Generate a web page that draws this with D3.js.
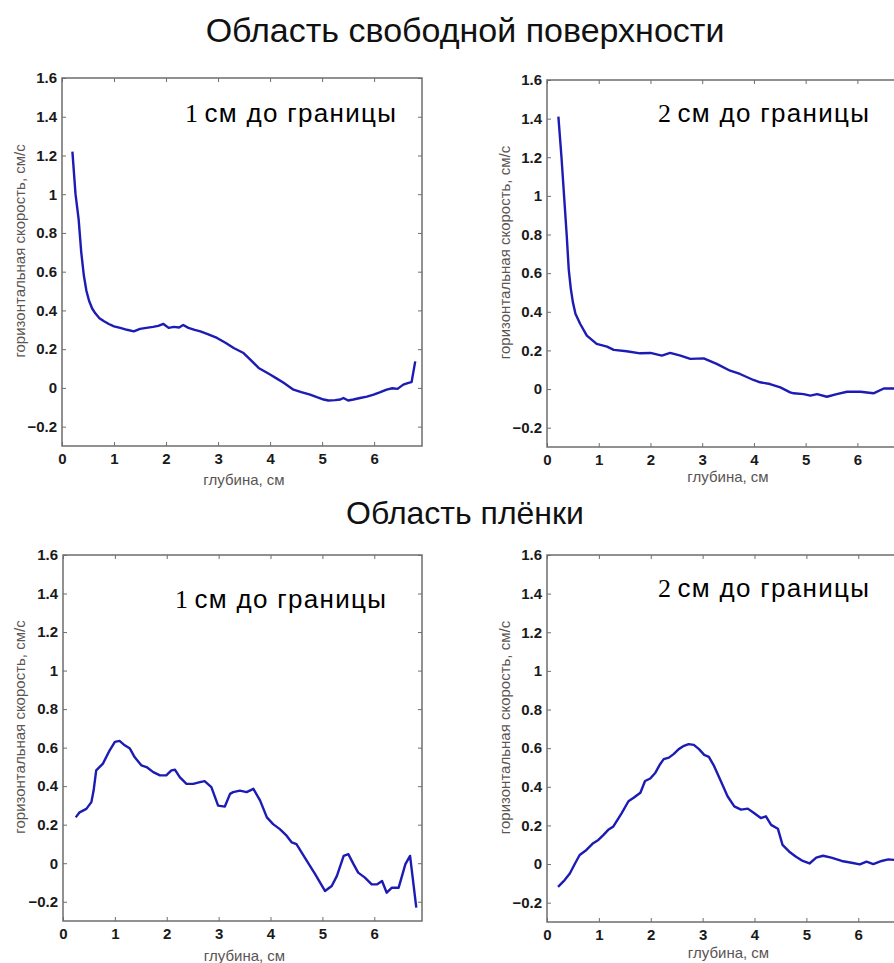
<!DOCTYPE html>
<html>
<head>
<meta charset="utf-8">
<script src="https://cdn.jsdelivr.net/npm/d3@7"></script>
<style>
  body { margin: 0; background: #fff; overflow: hidden; }
  svg { display: block; }
  text { font-family: Arial, "Liberation Sans", sans-serif; }
</style>
</head>
<body>
<div id="chart"></div>
<script>
// overall size
var width = 894;
var height = 963;

// axis ranges & ticks (shared by all four panels)
var xDomain = [0, 6.92];
var yDomain = [-0.3, 1.6];
var xTicks = [0, 1, 2, 3, 4, 5, 6];
var yTicks = [-0.2, 0, 0.2, 0.4, 0.6, 0.8, 1, 1.2, 1.4, 1.6];

var titles = ['Область свободной поверхности', 'Область плёнки'];
var panelLabels = ['1 см до границы', '2 см до границы', '1 см до границы', '2 см до границы'];
var xLabel = 'глубина, см';
var yLabel = 'горизонтальная скорость, см/с';

// depth (cm) / horizontal velocity (cm/s)
var surf1Depth = [0.2, 0.26, 0.32, 0.37, 0.42, 0.47, 0.52, 0.58, 0.64, 0.72, 0.8, 0.9, 1.0, 1.12, 1.25, 1.38, 1.5, 1.62, 1.75, 1.85, 1.95, 2.05, 2.15, 2.25, 2.33, 2.43, 2.55, 2.66, 2.8, 2.98, 3.15, 3.3, 3.49, 3.62, 3.78, 4.0, 4.13, 4.26, 4.45, 4.6, 4.77, 4.9, 5.03, 5.12, 5.25, 5.35, 5.41, 5.5, 5.6, 5.73, 5.86, 5.99, 6.12, 6.24, 6.35, 6.45, 6.56, 6.66, 6.72, 6.79];
var surf1Vel = [1.22, 1.0, 0.87, 0.7, 0.58, 0.5, 0.45, 0.41, 0.385, 0.36, 0.345, 0.33, 0.318, 0.31, 0.3, 0.292, 0.305, 0.31, 0.315, 0.32, 0.33, 0.31, 0.315, 0.312, 0.325, 0.31, 0.3, 0.292, 0.278, 0.258, 0.232, 0.206, 0.18, 0.146, 0.103, 0.069, 0.048, 0.026, -0.009, -0.022, -0.035, -0.048, -0.06, -0.065, -0.063, -0.06, -0.052, -0.065, -0.06, -0.052, -0.045, -0.035, -0.022, -0.009, -0.002, -0.005, 0.017, 0.026, 0.03, 0.137];

var surf2Depth = [0.22, 0.28, 0.33, 0.38, 0.42, 0.46, 0.5, 0.55, 0.64, 0.77, 0.96, 1.16, 1.29, 1.54, 1.8, 2.0, 2.22, 2.38, 2.58, 2.77, 3.03, 3.28, 3.54, 3.73, 3.99, 4.12, 4.31, 4.51, 4.7, 4.77, 4.96, 5.09, 5.22, 5.41, 5.6, 5.8, 6.06, 6.31, 6.51, 6.72, 6.85];
var surf2Vel = [1.41, 1.2, 1.0, 0.8, 0.62, 0.52, 0.45, 0.39, 0.338, 0.277, 0.234, 0.22, 0.203, 0.196, 0.185, 0.187, 0.173, 0.187, 0.173, 0.156, 0.159, 0.13, 0.095, 0.078, 0.047, 0.035, 0.026, 0.009, -0.017, -0.022, -0.026, -0.034, -0.026, -0.04, -0.026, -0.014, -0.014, -0.022, 0.003, 0.003, 0.01];

var film1Depth = [0.245, 0.32, 0.45, 0.547, 0.59, 0.64, 0.77, 0.9, 1.0, 1.09, 1.19, 1.29, 1.38, 1.51, 1.61, 1.74, 1.87, 1.99, 2.09, 2.16, 2.25, 2.38, 2.51, 2.64, 2.73, 2.86, 2.99, 3.12, 3.22, 3.28, 3.41, 3.54, 3.67, 3.8, 3.93, 4.05, 4.18, 4.31, 4.41, 4.5, 4.7, 4.86, 5.05, 5.18, 5.28, 5.41, 5.5, 5.6, 5.69, 5.82, 5.95, 6.05, 6.15, 6.24, 6.34, 6.47, 6.6, 6.69, 6.81];
var film1Vel = [0.238, 0.264, 0.282, 0.317, 0.377, 0.482, 0.517, 0.586, 0.63, 0.635, 0.612, 0.595, 0.551, 0.508, 0.499, 0.473, 0.456, 0.456, 0.482, 0.485, 0.447, 0.412, 0.412, 0.421, 0.426, 0.395, 0.299, 0.294, 0.36, 0.369, 0.377, 0.369, 0.386, 0.325, 0.238, 0.203, 0.177, 0.143, 0.108, 0.099, 0.012, -0.057, -0.144, -0.118, -0.066, 0.038, 0.047, -0.005, -0.049, -0.075, -0.11, -0.11, -0.092, -0.153, -0.127, -0.127, -0.005, 0.038, -0.231];

var film2Depth = [0.213, 0.34, 0.44, 0.54, 0.63, 0.76, 0.89, 0.99, 1.09, 1.18, 1.28, 1.34, 1.44, 1.57, 1.67, 1.8, 1.89, 1.99, 2.09, 2.18, 2.25, 2.35, 2.44, 2.54, 2.64, 2.73, 2.83, 2.93, 3.03, 3.12, 3.22, 3.35, 3.48, 3.61, 3.74, 3.87, 3.99, 4.12, 4.22, 4.32, 4.45, 4.54, 4.67, 4.8, 4.93, 5.06, 5.19, 5.32, 5.48, 5.68, 5.87, 6.03, 6.16, 6.29, 6.45, 6.58, 6.71, 6.78];
var film2Vel = [-0.118, -0.083, -0.049, 0.003, 0.047, 0.073, 0.108, 0.125, 0.151, 0.177, 0.195, 0.221, 0.264, 0.325, 0.343, 0.369, 0.43, 0.443, 0.473, 0.517, 0.543, 0.551, 0.569, 0.595, 0.612, 0.621, 0.617, 0.595, 0.565, 0.555, 0.508, 0.43, 0.351, 0.299, 0.282, 0.287, 0.264, 0.238, 0.247, 0.203, 0.183, 0.099, 0.064, 0.038, 0.016, 0.003, 0.033, 0.043, 0.033, 0.016, 0.007, -0.002, 0.012, 0.0, 0.016, 0.024, 0.021, 0.1];

var series = [
  [surf1Depth, surf1Vel],
  [surf2Depth, surf2Vel],
  [film1Depth, film1Vel],
  [film2Depth, film2Vel]
];

// panel boxes in page pixels (right-hand panels run past the page edge)
var panels = [
  { left: 62,  top: 78, w: 360, h: 368, lx: 185, ly: 122, ylx: 20,  xly: 485 },
  { left: 547, top: 80, w: 358, h: 367, lx: 658, ly: 122, ylx: 505, xly: 482 },
  { left: 63,  top: 555, w: 359, h: 366, lx: 175, ly: 608, ylx: 20,  xly: 961 },
  { left: 547, top: 555, w: 359, h: 367, lx: 658, ly: 597, ylx: 505, xly: 958 }
];

var lineColor = '#1c1cb4';
var boxColor = '#6e6e6e';
var tickLen = 4;

var svg = d3.select('#chart')
  .append('svg')
  .attr('width', width)
  .attr('height', height);

svg.append('rect')
  .attr('width', width)
  .attr('height', height)
  .attr('fill', '#fff');

// section titles
svg.append('text')
  .attr('x', 465)
  .attr('y', 42)
  .attr('text-anchor', 'middle')
  .attr('font-size', '34px')
  .attr('fill', '#111')
  .text(titles[0]);

svg.append('text')
  .attr('x', 465)
  .attr('y', 524)
  .attr('text-anchor', 'middle')
  .attr('font-size', '32px')
  .attr('fill', '#111')
  .text(titles[1]);

panels.forEach(function(p, i) {
  var x = d3.scaleLinear().domain(xDomain).range([0, p.w]);
  var y = d3.scaleLinear().domain(yDomain).range([p.h, 0]);

  var g = svg.append('g')
    .attr('transform', 'translate(' + p.left + ',' + p.top + ')');

  // bottom axis with labels, ticks pointing inward
  var xAxis = g.append('g')
    .attr('transform', 'translate(0,' + p.h + ')')
    .call(d3.axisBottom(x).tickValues(xTicks).tickSize(-tickLen).tickPadding(7).tickFormat(d3.format('d')));
  xAxis.select('.domain').remove();
  xAxis.selectAll('line').attr('stroke', boxColor);
  xAxis.selectAll('text')
    .attr('font-size', '15px')
    .attr('font-weight', 'bold')
    .attr('fill', '#1a1a1a');

  // top ticks
  var xTop = g.append('g')
    .call(d3.axisTop(x).tickValues(xTicks).tickSize(-tickLen).tickFormat(''));
  xTop.select('.domain').remove();
  xTop.selectAll('line').attr('stroke', boxColor);

  // left axis with labels
  var yAxis = g.append('g')
    .call(d3.axisLeft(y).tickValues(yTicks).tickSize(-tickLen).tickPadding(5).tickFormat(function(d) { return d3.format('')(+d.toFixed(1)); }));
  yAxis.select('.domain').remove();
  yAxis.selectAll('line').attr('stroke', boxColor);
  yAxis.selectAll('text')
    .attr('font-size', '15px')
    .attr('font-weight', 'bold')
    .attr('fill', '#1a1a1a');

  // right ticks
  var yRight = g.append('g')
    .attr('transform', 'translate(' + p.w + ',0)')
    .call(d3.axisRight(y).tickValues(yTicks).tickSize(-tickLen).tickFormat(''));
  yRight.select('.domain').remove();
  yRight.selectAll('line').attr('stroke', boxColor);

  // box
  g.append('rect')
    .attr('width', p.w)
    .attr('height', p.h)
    .attr('fill', 'none')
    .attr('stroke', boxColor)
    .attr('stroke-width', 1.5);

  // data line
  var depth = series[i][0];
  var vel = series[i][1];
  var line = d3.line()
    .x(function(d) { return x(depth[d]); })
    .y(function(d) { return y(vel[d]); });

  g.append('path')
    .datum(d3.range(depth.length))
    .attr('d', line)
    .attr('fill', 'none')
    .attr('stroke', lineColor)
    .attr('stroke-width', 2.4)
    .attr('stroke-linejoin', 'round');

  // axis titles
  svg.append('text')
    .attr('x', p.left + p.w * 0.5 + 2)
    .attr('y', p.xly)
    .attr('text-anchor', 'middle')
    .attr('font-size', '15px')
    .attr('fill', '#5a5452')
    .text(xLabel);

  svg.append('text')
    .attr('transform', 'translate(' + p.ylx + ',' + (p.top + p.h * 0.47) + ') rotate(-90)')
    .attr('dy', '0.35em')
    .attr('text-anchor', 'middle')
    .attr('font-size', '15px')
    .attr('fill', '#5a5452')
    .text(yLabel);

  // panel label: serif digit + sans text
  var parts = panelLabels[i].split(' ');
  var lab = svg.append('text')
    .attr('x', p.lx)
    .attr('y', p.ly)
    .attr('fill', '#000');
  lab.append('tspan')
    .attr('font-family', '"Times New Roman", "Liberation Serif", serif')
    .attr('font-size', '26px')
    .text(parts[0] + ' ');
  lab.append('tspan')
    .attr('font-size', '26px')
    .attr('letter-spacing', '1.3px')
    .text(parts.slice(1).join(' '));
});
</script>
</body>
</html>
